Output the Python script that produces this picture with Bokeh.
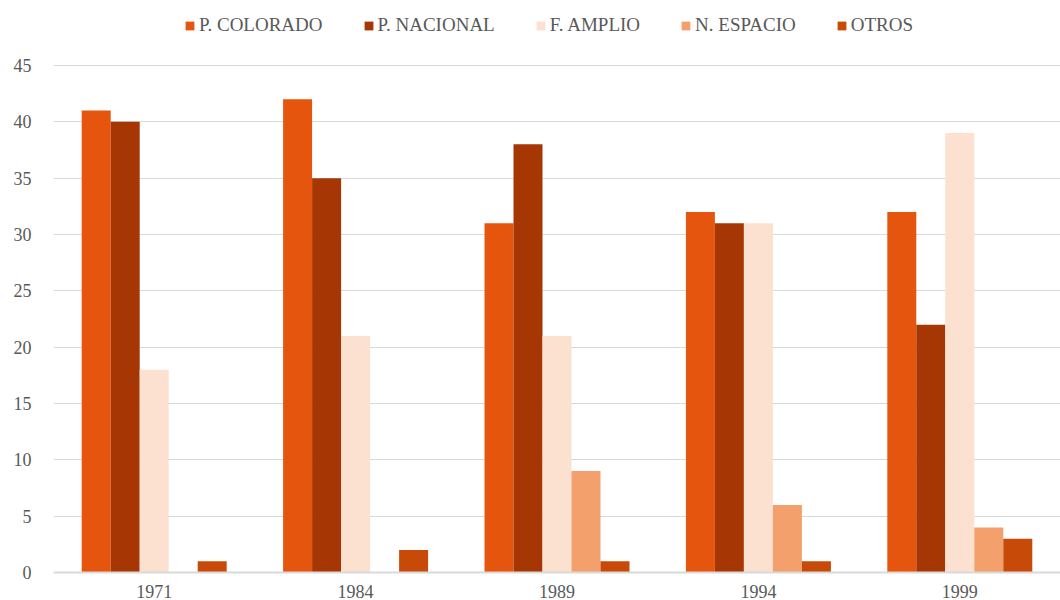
from bokeh.plotting import figure
from bokeh.models import ColumnDataSource, FactorRange, Legend, LegendItem, Range1d, FixedTicker
from bokeh.transform import dodge
from bokeh.embed import file_html
from bokeh.resources import INLINE

years = ["1971", "1984", "1989", "1994", "1999"]
series = ["P. COLORADO", "P. NACIONAL", "F. AMPLIO", "N. ESPACIO", "OTROS"]
colorado = [41, 42, 31, 32, 32]
nacional = [40, 35, 38, 31, 22]
amplio = [18, 21, 21, 31, 39]
espacio = [0, 0, 9, 6, 4]
otros = [1, 2, 1, 1, 3]
colors = ["#E6550D", "#A63603", "#FCE0D0", "#F4A06C", "#C84A09"]
y_ticks = [0, 5, 10, 15, 20, 25, 30, 35, 40, 45]

src = ColumnDataSource(dict(year=years, s0=colorado, s1=nacional, s2=amplio, s3=espacio, s4=otros))

FONT = "Liberation Serif"
TXT = "#595959"

# frame spans y=5..572 px; 45 sits at y=65, leaving room for the legend inside the frame
y_top = 45 * (572 - 5) / (572 - 65)

p = figure(x_range=FactorRange(*years), y_range=Range1d(0, y_top), width=1060, height=600,
           output_backend="svg", toolbar_location=None,
           min_border_left=53, min_border_right=0, min_border_top=5, min_border_bottom=0)
p.outline_line_color = None

bw = 0.144
offsets = [-2 * bw, -bw, 0, bw, 2 * bw]
renderers = []
for i, name in enumerate(series):
    r = p.vbar(x=dodge("year", offsets[i], range=p.x_range), top="s%d" % i, width=bw,
               source=src, fill_color=colors[i], line_color=None)
    renderers.append(r)

legend = Legend(items=[LegendItem(label=n, renderers=[r]) for n, r in zip(series, renderers)],
                orientation="horizontal", location=(131, 536),
                label_text_font=FONT, label_text_font_size="19px", label_text_color=TXT,
                glyph_width=11, glyph_height=11, spacing=40, label_standoff=4,
                padding=0, margin=0, border_line_color=None, background_fill_alpha=0)
p.add_layout(legend, "center")

p.yaxis.ticker = FixedTicker(ticks=y_ticks)
p.yaxis.axis_line_color = None
p.yaxis.major_tick_line_color = None
p.yaxis.minor_tick_line_color = None
p.yaxis.major_label_text_font = FONT
p.yaxis.major_label_text_font_size = "18px"
p.yaxis.major_label_text_color = TXT
p.yaxis.major_label_standoff = 16

p.xaxis.axis_line_color = "#D9D9D9"
p.xaxis.axis_line_width = 2
p.xaxis.major_tick_line_color = None
p.xaxis.minor_tick_line_color = None
p.xaxis.major_label_text_font = FONT
p.xaxis.major_label_text_font_size = "18px"
p.xaxis.major_label_text_color = TXT
p.xaxis.major_label_standoff = 6

p.xgrid.grid_line_color = None
p.ygrid.grid_line_color = "#D9D9D9"
p.ygrid.grid_line_width = 1
p.x_range.range_padding = 0
p.x_range.group_padding = 0

open("out.html", "w").write(file_html(p, INLINE))
